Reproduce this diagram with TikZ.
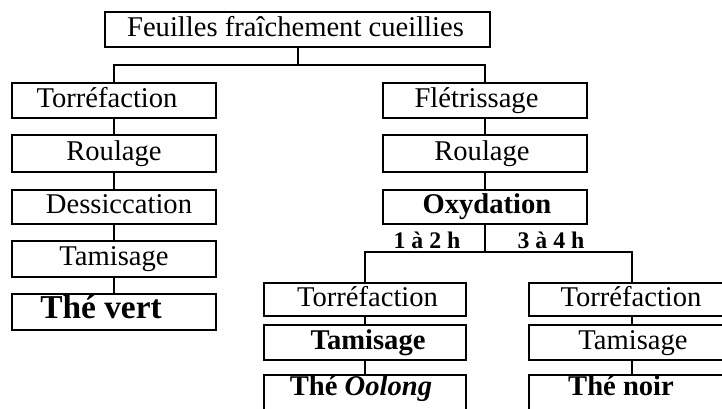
\documentclass[tikz,border=0pt]{standalone}
\usepackage{fontspec}
\setmainfont{Liberation Serif}
\newcommand\shtx[2]{\hspace*{#1pt}#2}
\begin{document}
\begin{tikzpicture}[x=1pt,y=-1pt,
  box/.style={draw=black, line width=2pt, fill=white, inner sep=0pt,
    minimum height=35pt, text height=20pt, text depth=7pt,
    font=\fontsize{28.6}{34}\selectfont},
  boldbox/.style={box, font=\fontsize{28.6}{34}\selectfont\bfseries},
  conn/.style={line width=2pt, line cap=rect},
  dur/.style={font=\fontsize{23.8}{28}\selectfont\bfseries, inner sep=0pt, anchor=base}]
\useasboundingbox (0,0) rectangle (722,408);
% top
\node[box, minimum width=385pt] (top) at (297.5,29.5) {\shtx{-4}{Feuilles fraîchement cueillies}};
% left column
\node[box, minimum width=204pt] (l1) at (114,100.5) {\shtx{-14}{Torréfaction}};
\node[box, minimum width=204pt, minimum height=37pt] (l2) at (114,153.5) {Roulage};
\node[box, minimum width=204pt, minimum height=34pt] (l3) at (114,207) {\shtx{10}{Dessiccation}};
\node[box, minimum width=204pt, minimum height=36pt] (l4) at (114,259) {Tamisage};
\node[boldbox, minimum width=204pt, minimum height=36pt, font=\fontsize{33.4}{40}\selectfont\bfseries] (l5) at (114,312) {\shtx{-26}{Thé vert}};
% right column
\node[box, minimum width=204pt] (r1) at (485,100.5) {\shtx{-17}{Flétrissage}};
\node[box, minimum width=204pt, minimum height=37pt] (r2) at (485,153.5) {\shtx{-6}{Roulage}};
\node[boldbox, minimum width=204pt, minimum height=34pt] (r3) at (485,207) {\shtx{4}{Oxydation}};
% bottom-left column
\node[box, minimum width=202pt, minimum height=33pt] (bl1) at (365,299.5) {\shtx{5}{Torréfaction}};
\node[boldbox, minimum width=202pt] (bl2) at (365,342.5) {\shtx{6}{Tamisage}};
\node[boldbox, minimum width=202pt, minimum height=53pt, text height=20pt, text depth=32pt] (bl3) at (365,401.5) {\shtx{-8}{Thé \textit{Oolong}}};
% bottom-right column
\node[box, minimum width=206pt, minimum height=33pt] (br1) at (632,299.5) {\shtx{-2}{Torréfaction}};
\node[box, minimum width=206pt] (br2) at (632,342.5) {\shtx{2}{Tamisage}};
\node[boldbox, minimum width=206pt, minimum height=53pt, text height=20pt, text depth=32pt] (br3) at (632,401.5) {\shtx{-22}{Thé noir}};
% junctions
\coordinate (j1) at (297.5,65);
\coordinate (j2) at (485,252);
\draw[conn] (top.south) -- (j1);
\draw[conn] (j1) -| (l1.north);
\draw[conn] (j1) -| (r1.north);
\draw[conn] (l1) -- (l2);
\draw[conn] (l2) -- (l3);
\draw[conn] (l3) -- (l4);
\draw[conn] (l4) -- (l5);
\draw[conn] (r1) -- (r2);
\draw[conn] (r2) -- (r3);
\draw[conn] (r3.south) -- (j2);
\draw[conn] (j2) -| (bl1.north);
\draw[conn] (j2) -| (br1.north);
\draw[conn] (bl1) -- (bl2);
\draw[conn] (bl2) -- (bl3);
\draw[conn] (br1) -- (br2);
\draw[conn] (br2) -- (br3);
% durations
\node[dur] (d1) at (427,248) {1 à 2 h};
\node[dur] (d2) at (551,248) {3 à 4 h};
\end{tikzpicture}
\end{document}
